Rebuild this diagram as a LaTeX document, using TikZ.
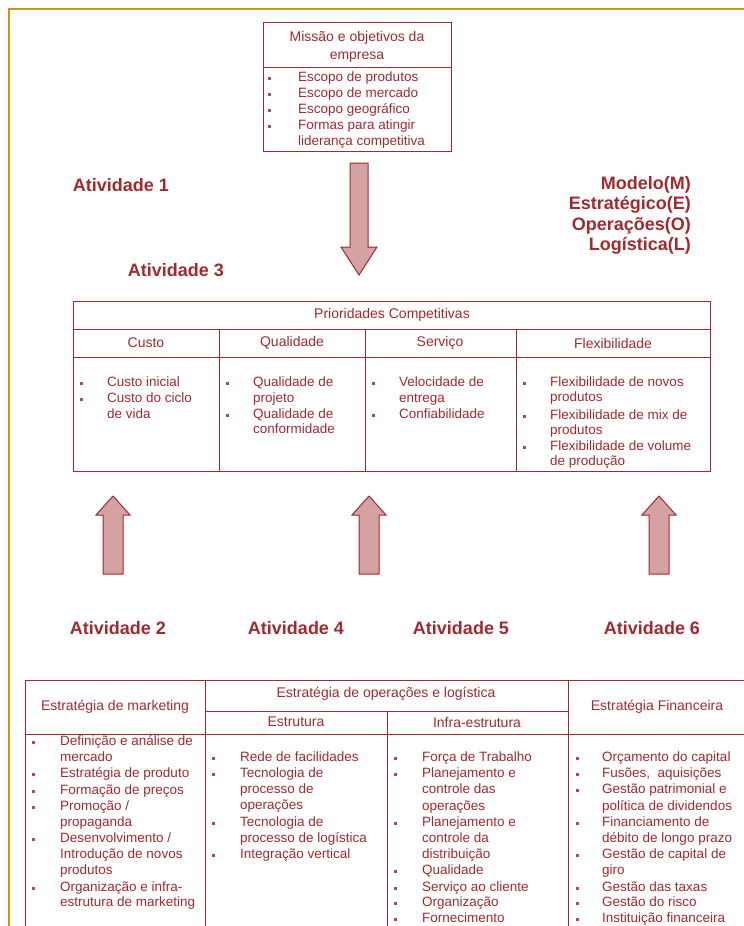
\documentclass[tikz,border=0pt]{standalone}
\usepackage{fontspec}
\setmainfont{Liberation Sans}
\usepackage{tikz}
\usetikzlibrary{positioning, calc}

\definecolor{boxred}{RGB}{160,42,45}
\definecolor{arrowfill}{RGB}{212,162,162}
\definecolor{framegold}{RGB}{202,152,12}

\def\bodysize{\fontsize{13.5}{16}\selectfont}
\def\headsize{\fontsize{14}{18}\selectfont}
\def\actsize{\fontsize{18}{20.5}\selectfont\bfseries}

\tikzset{
    tableline/.style={draw=boxred, line width=1pt},
    headtext/.style={font=\headsize, text=boxred, inner sep=0pt, align=center},
    itemtext/.style={anchor=west, inner sep=0pt, text height=9.5pt, text depth=2.5pt, font=\bodysize, text=boxred},
    bulletmark/.style={fill=boxred!85, inner sep=0pt, minimum size=3pt},
    activity/.style={font=\actsize, text=boxred, inner sep=0pt},
    blockarrow/.style={fill=arrowfill, draw=boxred, line width=1pt, line join=miter}
}

% one column of bullet lines: #1 name, #2 bullet x, #3 text x, #4 list y/bullet/text
\def\itemcolumn#1#2#3#4{%
    \foreach \y/\b/\txt [count=\n] in {#4}
    {
        \node[itemtext] (#1-\n) at (#3,\y) {\txt};
        \ifnum\b=1 \node[bulletmark] (#1-b\n) at (#2,\y) {};\fi
    }
}

\begin{document}
\begin{tikzpicture}[x=1pt, y=-1pt]
    \useasboundingbox (0,0) rectangle (744,926);

    % gold frame
    \draw[framegold, line width=2pt] (744,9) -- (9,9) -- (9,926);

    % mission box
    \draw[tableline] (263,22) rectangle (451,151);
    \draw[tableline] (263,67) -- (451,67);
    \node[headtext] (mission) at (357,47) {Missão e objetivos da\\empresa};
    \itemcolumn{mis}{269}{298}{
        78/1/Escopo de produtos,
        94/1/Escopo de mercado,
        110/1/Escopo geográfico,
        126/1/Formas para atingir,
        142/0/liderança competitiva}

    % arrow down
    \draw[blockarrow] (350,163) -- (368,163) -- (368,247) -- (377,247)
        -- (359,275) -- (341,247) -- (350,247) -- cycle;

    % activities
    \foreach \name/\x/\y/\txt in {
        act1/121/185/Atividade 1,
        act3/176/270/Atividade 3,
        act2/118/628/Atividade 2,
        act4/296/628/Atividade 4,
        act5/461/628/Atividade 5,
        act6/652/628/Atividade 6}
    {
        \node[activity] (\name) at (\x,\y) {\txt};
    }

    % model labels
    \foreach \name/\y/\txt in {
        mod/185/Modelo(M),
        est/205/Estratégico(E),
        ope/226/Operações(O),
        log/246/Logística(L)}
    {
        \node[activity, anchor=east] (\name) at (691,\y) {\txt};
    }

    % competitive priorities table
    \draw[tableline] (73,301) rectangle (710,471);
    \draw[tableline] (73,329) -- (710,329);
    \draw[tableline] (73,357) -- (710,357);
    \foreach \x in {219,365,516}
    {
        \draw[tableline] (\x,329) -- (\x,471);
    }
    \node[headtext] (prior) at (392,315) {Prioridades Competitivas};
    \foreach \name/\x/\txt in {
        custo/146/Custo,
        qual/292/Qualidade,
        serv/440/Serviço,
        flex/613/Flexibilidade}
    {
        \node[headtext] (\name) at (\x,343) {\txt};
    }
    \itemcolumn{cus}{81}{107}{
        383/1/Custo inicial,
        399/1/Custo do ciclo,
        415/0/de vida}
    \itemcolumn{qua}{227}{253}{
        383/1/Qualidade de,
        399/0/projeto,
        415/1/Qualidade de,
        430/0/conformidade}
    \itemcolumn{ser}{373}{399}{
        383/1/Velocidade de,
        399/0/entrega,
        415/1/Confiabilidade}
    \itemcolumn{fle}{524}{550}{
        383/1/Flexibilidade de novos,
        398/0/produtos,
        416/1/Flexibilidade de mix de,
        431/0/produtos,
        447/1/Flexibilidade de volume,
        462/0/de produção}

    % arrows up
    \foreach \x in {113,369,659}
    {
        \draw[blockarrow] ({\x-10},574) -- ({\x-10},515) -- ({\x-17},515) -- (\x,496)
            -- ({\x+17},515) -- ({\x+10},515) -- ({\x+10},574) -- cycle;
    }

    % strategy table
    \draw[tableline] (25,926) -- (25,680) -- (744,680);
    \draw[tableline] (205,711) -- (568,711);
    \draw[tableline] (25,734) -- (744,734);
    \draw[tableline] (205,680) -- (205,926);
    \draw[tableline] (568,680) -- (568,926);
    \draw[tableline] (387,711) -- (387,926);
    \node[headtext] (mkt) at (115,707) {Estratégia de marketing};
    \node[headtext] (opl) at (386,694) {Estratégia de operações e logística};
    \node[headtext] (estr) at (296,722) {Estrutura};
    \node[headtext] (infra) at (477,722) {Infra-estrutura};
    \node[headtext] (fin) at (657,707) {Estratégia Financeira};

    \itemcolumn{mk}{33}{60}{
        742/1/Definição e análise de,
        758/0/mercado,
        774/1/Estratégia de produto,
        791/1/Formação de preços,
        807/1/{Promoção /},
        823/0/propaganda,
        839/1/{Desenvolvimento /},
        855/0/Introdução de novos,
        871/0/produtos,
        888/1/Organização e infra-,
        903/0/estrutura de marketing}
    \itemcolumn{es}{213}{240}{
        758/1/Rede de facilidades,
        774/1/Tecnologia de,
        790/0/processo de,
        806/0/operações,
        823/1/Tecnologia de,
        839/0/processo de logística,
        855/1/Integração vertical}
    \itemcolumn{in}{395}{422}{
        758/1/Força de Trabalho,
        774/1/Planejamento e,
        790/0/controle das,
        807/0/operações,
        823/1/Planejamento e,
        839/0/controle da,
        855/0/distribuição,
        871/1/Qualidade,
        888/1/Serviço ao cliente,
        903/1/Organização,
        919/1/Fornecimento}
    \itemcolumn{fi}{577}{602}{
        758/1/Orçamento do capital,
        774/1/{Fusões,\ \ aquisições},
        790/1/Gestão patrimonial e,
        807/0/política de dividendos,
        823/1/Financiamento de,
        839/0/débito de longo prazo,
        855/1/Gestão de capital de,
        871/0/giro,
        888/1/Gestão das taxas,
        903/1/Gestão do risco,
        919/1/Instituição financeira}
\end{tikzpicture}
\end{document}
